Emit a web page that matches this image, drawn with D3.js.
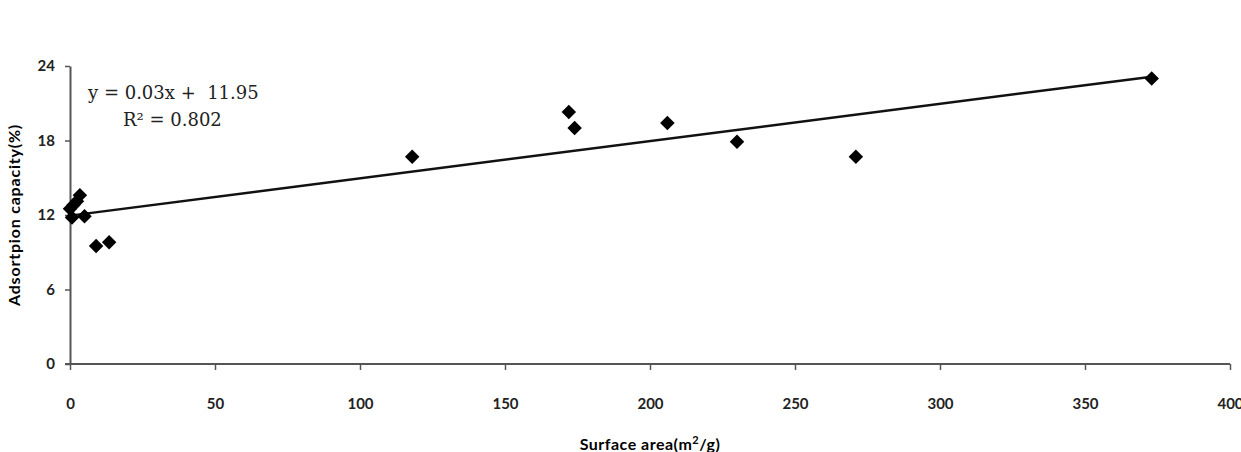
<!DOCTYPE html>
<html>
<head>
  <meta charset="utf-8" />
  <script src="https://d3js.org/d3.v7.min.js"></script>
  <style>
    body{margin:0;background:#fff;}
    .tick text{font-family:Lato,"Open Sans",sans-serif;font-weight:bold;font-size:15px;fill:#222;}
  </style>
</head>
<body>
<script>
// surface area (m2/g) and adsorption capacity (%)
var surfaceArea = [0, 0.7, 1.2, 2.4, 3.4, 5, 9, 13.5, 118, 172, 174, 206, 230, 271, 373];
var capacity    = [12.5, 11.8, 12.8, 13.1, 13.6, 11.9, 9.5, 9.8, 16.7, 20.3, 19.0, 19.4, 17.9, 16.7, 23.0];
var xTicks = [0, 50, 100, 150, 200, 250, 300, 350, 400];
var yTicks = [0, 6, 12, 18, 24];
var slope = 0.03, intercept = 11.95, r2 = 0.802;

var width = 1241, height = 452;
var svg = d3.select('body').append('svg')
  .attr('width', width).attr('height', height);

var x = d3.scaleLinear().domain([0, 400]).range([70, 1230]);
var y = d3.scaleLinear().domain([0, 24]).range([364, 66]);

//axes
var xAxis = svg.append('g').attr('transform', 'translate(0,' + y(0) + ')')
  .call(d3.axisBottom(x).tickValues(xTicks).tickSize(6).tickSizeOuter(0).tickPadding(28));
var yAxis = svg.append('g').attr('transform', 'translate(' + x(0) + ',0)')
  .call(d3.axisLeft(y).tickValues(yTicks).tickSize(5).tickSizeOuter(0).tickPadding(10));
[xAxis, yAxis].forEach(function(g){
  g.select('.domain').attr('stroke', '#555').attr('stroke-width', 2);
  g.selectAll('.tick line').attr('stroke', '#555').attr('stroke-width', 1.5);
});
// extend x axis a little to the left of the y axis
xAxis.select('.domain').attr('d', 'M' + (x(0) - 5) + ',0H' + x(400));

//trend line
svg.append('line')
  .attr('x1', x(0)).attr('y1', y(intercept))
  .attr('x2', x(373)).attr('y2', y(intercept + slope * 373))
  .attr('stroke', '#111').attr('stroke-width', 2.5);

//points
var diamond = d3.symbol().type(d3.symbolSquare).size(105);
svg.selectAll('.pt').data(surfaceArea).enter().append('path')
  .attr('class', 'pt')
  .attr('d', diamond)
  .attr('transform', function(d, i){ return 'translate(' + x(d) + ',' + y(capacity[i]) + ') rotate(45)'; })
  .attr('fill', '#000');

//equation
var eq = svg.append('g').attr('font-family', '"DejaVu Serif","Liberation Serif",serif')
  .attr('font-size', '18px').attr('fill', '#222');
eq.append('text').attr('x', 88).attr('y', 99).attr('xml:space', 'preserve')
  .text('y = ' + slope + 'x +  ' + intercept);
eq.append('text').attr('x', 123).attr('y', 126).text('R² = ' + r2);

//axis titles
svg.append('text')
  .attr('x', 650).attr('y', 450)
  .attr('text-anchor', 'middle')
  .attr('font-family', 'Lato,"Open Sans",sans-serif').attr('font-weight', 'bold').attr('font-size', '16px')
  .attr('letter-spacing', '0.5')
  .html('Surface area(m<tspan baseline-shift="super" font-size="11px">2</tspan>/g)');
svg.append('text')
  .attr('transform', 'translate(20,' + ((y(0) + y(24)) / 2) + ') rotate(-90)')
  .attr('text-anchor', 'middle')
  .attr('font-family', 'Lato,"Open Sans",sans-serif').attr('font-weight', 'bold').attr('font-size', '16px')
  .attr('letter-spacing', '0.8')
  .text('Adsortpion capacity(%)');
</script>
</body>
</html>
